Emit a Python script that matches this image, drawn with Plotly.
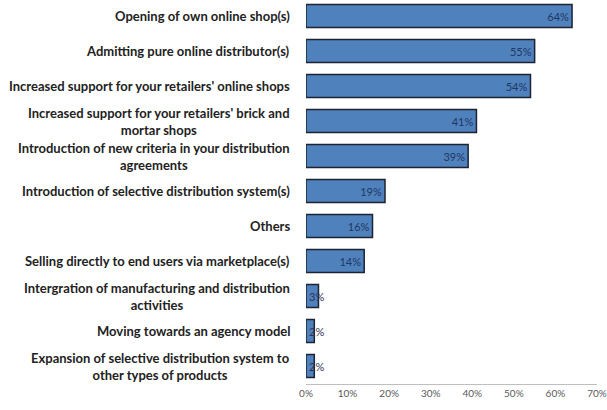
import plotly.graph_objects as go

categories = [
    "Opening of own online shop(s)",
    "Admitting pure online distributor(s)",
    "Increased support for your retailers' online shops",
    "Increased support for your retailers' brick and<br>mortar shops",
    "Introduction of new criteria in your distribution<br>agreements",
    "Introduction of selective distribution system(s)",
    "Others",
    "Selling directly to end users via marketplace(s)",
    "Intergration of manufacturing and distribution<br>activities",
    "Moving towards an agency model",
    "Expansion of selective distribution system to<br>other types of products",
]
values = [64, 55, 54, 41, 39, 19, 16, 14, 3, 2, 2]
x_ticks = [0, 10, 20, 30, 40, 50, 60, 70]

big = [(i, v) for i, v in enumerate(values) if v >= 10]
small = [(i, v) for i, v in enumerate(values) if v < 10]

bar_marker = dict(color="#4f81bd", line=dict(color="#1c2333", width=1.5))
val_font = dict(family="Lato", size=11, color="#1f3864")

fig = go.Figure()
fig.add_trace(go.Bar(
    x=[v for _, v in big], y=[i for i, _ in big], orientation="h",
    marker=bar_marker, text=[f"{v}%" for _, v in big],
    textposition="inside", insidetextanchor="end", textfont=val_font,
    textangle=0, cliponaxis=False, width=0.66,
))
fig.add_trace(go.Bar(
    x=[v for _, v in small], y=[i for i, _ in small], orientation="h",
    marker=bar_marker, text=[f"{v}%" for _, v in small],
    textposition="inside", insidetextanchor="start", constraintext="none",
    textfont=dict(family="Lato", size=11, color="#333355"),
    textangle=0, cliponaxis=False, width=0.66,
))

for i, c in enumerate(categories):
    fig.add_annotation(
        x=0, xref="paper", y=i, yref="y",
        text=c, showarrow=False, xanchor="right", yanchor="middle",
        align="center", xshift=-14,
        font=dict(family="Lato", size=13, color="#222222", weight="bold"),
    )

n = len(categories)
fig.update_layout(
    width=607, height=410,
    margin=dict(l=306, r=10, t=0, b=26),
    paper_bgcolor="white", plot_bgcolor="white",
    showlegend=False, barmode="overlay",
    xaxis=dict(
        range=[0, 70], tickvals=x_ticks, ticktext=[f"{t}%" for t in x_ticks],
        showgrid=False, zeroline=False, showline=True, linecolor="#bfbfbf", linewidth=1,
        ticks="", tickfont=dict(family="Lato", size=10, color="#595959"),
        fixedrange=True,
    ),
    yaxis=dict(
        range=[n - 1 + 18 / 35, -16 / 35],
        showticklabels=False, showgrid=False, zeroline=False, showline=False,
        fixedrange=True,
    ),
)

fig.write_html("out.html")
